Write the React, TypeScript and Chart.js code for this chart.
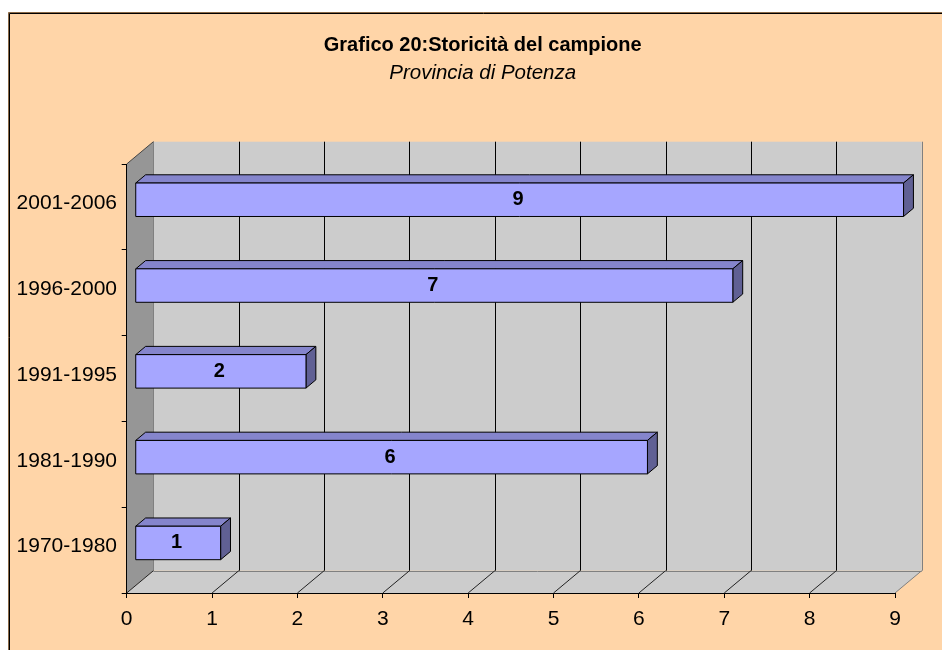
import React, { useEffect, useRef } from "react";
import { Chart, registerables } from "chart.js";

Chart.register(...registerables);

const categories = ["2001-2006", "1996-2000", "1991-1995", "1981-1990", "1970-1980"];
const values = [9, 7, 2, 6, 1];
const xMin = 0;
const xMax = 9;
const titleText = "Grafico 20:Storicità del campione";
const subtitleText = "Provincia di Potenza";

const FONT = "'Liberation Sans', Arial, sans-serif";
const PEACH = "#FFD5A8";
const WALL = "#CCCCCC";
const SIDE_WALL = "#969696";
const BAR_FRONT = "#A6A6FF";
const BAR_TOP = "#8585CC";
const BAR_SIDE = "#606094";
const DX = 26.7;
const DY = -22.3;
const F1 = 0.32;
const F2 = 0.69;

const cw = 950;
const ch = 650;

const excel3d = {
  id: "excel3d",
  beforeDraw(chart: any) {
    const ctx = chart.ctx;
    const { left: L, right: R, top: T, bottom: B } = chart.chartArea;
    const xs = chart.scales.x;
    ctx.save();
    ctx.fillStyle = PEACH;
    ctx.fillRect(0, 0, chart.width, chart.height);
    // chart border
    ctx.strokeStyle = "#8a6a48";
    ctx.lineWidth = 1;
    ctx.beginPath();
    ctx.moveTo(0.5, chart.height);
    ctx.lineTo(0.5, 0.5);
    ctx.lineTo(chart.width, 0.5);
    ctx.stroke();
    ctx.strokeStyle = "#000";
    ctx.beginPath();
    ctx.moveTo(1.5, chart.height);
    ctx.lineTo(1.5, 1.5);
    ctx.lineTo(chart.width, 1.5);
    ctx.stroke();

    // titles
    ctx.fillStyle = "#000";
    ctx.textAlign = "center";
    ctx.textBaseline = "middle";
    ctx.font = `bold 20px ${FONT}`;
    ctx.fillText(titleText, 474.7, 33.5);
    ctx.font = `italic 20.5px ${FONT}`;
    ctx.fillText(subtitleText, 474.7, 61);

    // back wall
    ctx.fillStyle = WALL;
    ctx.fillRect(L + DX, T + DY, R - L, B - T);
    // left side wall
    ctx.fillStyle = SIDE_WALL;
    ctx.beginPath();
    ctx.moveTo(L, T);
    ctx.lineTo(L + DX, T + DY);
    ctx.lineTo(L + DX, B + DY);
    ctx.lineTo(L, B);
    ctx.closePath();
    ctx.fill();
    // floor
    ctx.fillStyle = WALL;
    ctx.beginPath();
    ctx.moveTo(L, B);
    ctx.lineTo(R, B);
    ctx.lineTo(R + DX, B + DY);
    ctx.lineTo(L + DX, B + DY);
    ctx.closePath();
    ctx.fill();

    ctx.lineWidth = 1;
    // gridlines on back wall
    for (let k = xMin; k <= xMax; k++) {
      const x = Math.round(xs.getPixelForValue(k) + DX) + 0.5;
      ctx.strokeStyle = k === xMin || k === xMax ? "#808080" : "#000";
      ctx.beginPath();
      ctx.moveTo(x, T + DY);
      ctx.lineTo(x, B + DY);
      ctx.stroke();
    }
    // floor back edge
    ctx.strokeStyle = "#808080";
    ctx.beginPath();
    ctx.moveTo(L + DX, Math.round(B + DY) + 0.5);
    ctx.lineTo(R + DX, Math.round(B + DY) + 0.5);
    ctx.stroke();
    // floor lines
    for (let k = xMin; k <= xMax; k++) {
      const x = xs.getPixelForValue(k);
      ctx.strokeStyle = k === xMax ? "#808080" : "#222";
      ctx.beginPath();
      ctx.moveTo(x, B);
      ctx.lineTo(x + DX, B + DY);
      ctx.stroke();
    }
    // left wall top edge
    ctx.strokeStyle = "#444";
    ctx.beginPath();
    ctx.moveTo(L, T);
    ctx.lineTo(L + DX, T + DY);
    ctx.stroke();
    ctx.restore();
  },
  afterDatasetsDraw(chart: any) {
    const ctx = chart.ctx;
    const meta = chart.getDatasetMeta(0);
    ctx.save();
    ctx.lineWidth = 1;
    ctx.strokeStyle = "#000";
    ctx.lineJoin = "miter";
    meta.data.forEach((el: any, i: number) => {
      const p = el.getProps(["x", "y", "base", "height"], true);
      const xb = p.base;
      const xv = p.x;
      const yt = p.y - p.height / 2;
      const yb = p.y + p.height / 2;
      const fx = DX * F1, fy = DY * F1, bx = DX * F2, by = DY * F2;
      // top face
      ctx.fillStyle = BAR_TOP;
      ctx.beginPath();
      ctx.moveTo(xb + fx, yt + fy);
      ctx.lineTo(xv + fx, yt + fy);
      ctx.lineTo(xv + bx, yt + by);
      ctx.lineTo(xb + bx, yt + by);
      ctx.closePath();
      ctx.fill();
      ctx.stroke();
      // side face
      ctx.fillStyle = BAR_SIDE;
      ctx.beginPath();
      ctx.moveTo(xv + fx, yt + fy);
      ctx.lineTo(xv + bx, yt + by);
      ctx.lineTo(xv + bx, yb + by);
      ctx.lineTo(xv + fx, yb + fy);
      ctx.closePath();
      ctx.fill();
      ctx.stroke();
      // front face
      ctx.fillStyle = BAR_FRONT;
      ctx.beginPath();
      ctx.rect(xb + fx, yt + fy, xv - xb, yb - yt);
      ctx.fill();
      ctx.stroke();
      // data label
      ctx.fillStyle = "#000";
      ctx.font = `bold 20px ${FONT}`;
      ctx.textAlign = "center";
      ctx.textBaseline = "middle";
      ctx.fillText(String(values[i]), (xb + xv) / 2 + fx - 1.5, p.y + fy);
    });
    ctx.restore();
  },
};

export default function App() {
  const ref = useRef<HTMLCanvasElement | null>(null);
  useEffect(() => {
    if (!ref.current) return;
    const chart = new Chart(ref.current, {
      type: "bar",
      data: {
        labels: categories,
        datasets: [
          {
            data: values,
            backgroundColor: "rgba(0,0,0,0)",
            borderWidth: 0,
            categoryPercentage: 1,
            barPercentage: 0.39,
          },
        ],
      },
      options: {
        indexAxis: "y",
        responsive: false,
        maintainAspectRatio: false,
        animation: false,
        devicePixelRatio: 1,
        layout: { padding: { left: 0, right: 63, top: 152, bottom: 19 } },
        plugins: {
          legend: { display: false },
          tooltip: { enabled: false },
          title: { display: false },
        },
        scales: {
          x: {
            type: "linear",
            min: xMin,
            max: xMax,
            ticks: {
              stepSize: 1,
              color: "#000",
              font: { family: FONT, size: 21 },
              padding: 9,
            },
            grid: { drawOnChartArea: false, drawTicks: true, tickLength: 5, color: "#000" },
            border: { display: true, color: "#000" },
            afterFit: (s: any) => {
              s.height = 50;
            },
          },
          y: {
            type: "category",
            offset: true,
            ticks: {
              color: "#000",
              font: { family: FONT, size: 21 },
              padding: 4.7,
              labelOffset: -3.5,
            },
            grid: {
              drawOnChartArea: false,
              drawTicks: true,
              tickLength: 5,
              color: "#000",
              offset: true,
            },
            border: { display: true, color: "#000" },
            afterFit: (s: any) => {
              s.width = 118.7;
            },
          },
        },
      },
      plugins: [excel3d],
    } as any);
    return () => chart.destroy();
  }, []);
  return (
    <div style={{ position: "fixed", left: 8, top: 12, width: cw, height: ch }}>
      <canvas ref={ref} width={cw} height={ch} style={{ display: "block" }} />
    </div>
  );
}
